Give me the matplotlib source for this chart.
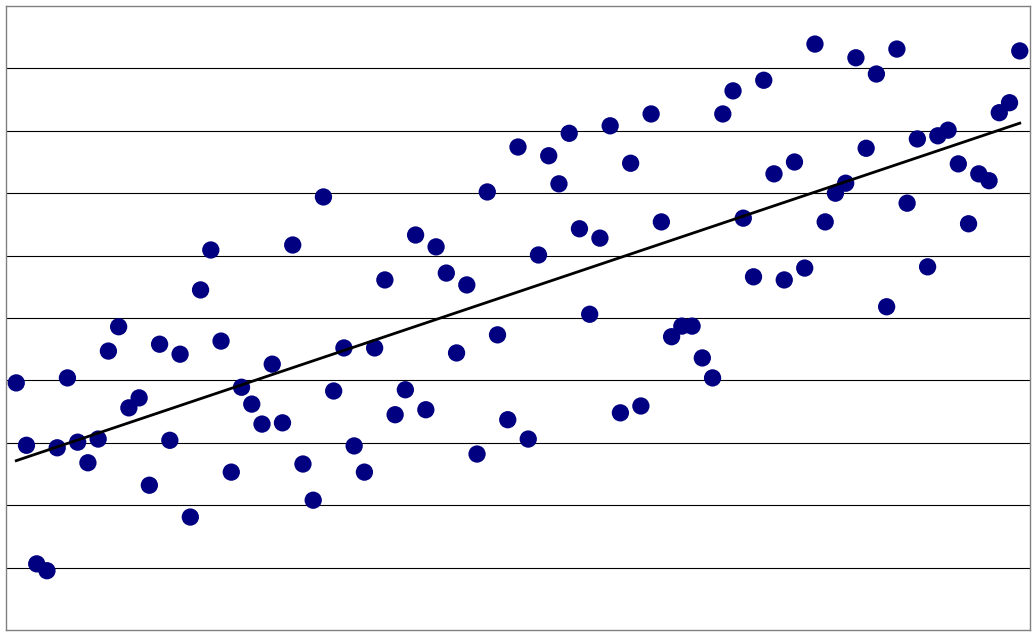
import numpy as np
import matplotlib
matplotlib.use("Agg")
import matplotlib.pyplot as plt

x_vals = np.arange(1, 100)
y_vals = [
    3.96, 2.96, 1.06, 0.95, 2.92, 4.04, 3.01, 2.68, 3.06, 4.47,
    4.86, 3.56, 3.72, 2.32, 4.58, 3.04, 4.42, 1.81, 5.45, 6.09,
    4.63, 2.53, 3.89, 3.62, 3.30, 4.26, 3.32, 6.17, 2.66, 2.08,
    6.94, 3.83, 4.52, 2.95, 2.53, 4.52, 5.61, 3.45, 3.85, 6.33,
    3.53, 6.14, 5.72, 4.44, 5.53, 2.82, 7.02, 4.73, 3.37, 7.74,
    3.06, 6.01, 7.60, 7.15, 7.96, 6.43, 5.06, 6.28, 8.08, 3.48,
    7.48, 3.59, 8.27, 6.54, 4.70, 4.87, 4.87, 4.36, 4.04, 8.27,
    8.64, 6.60, 5.66, 8.81, 7.31, 5.61, 7.50, 5.80, 9.39, 6.54,
    7.00, 7.16, 9.17, 7.72, 8.91, 5.18, 9.31, 6.84, 7.87, 5.82,
    7.92, 8.01, 7.47, 6.51, 7.31, 7.20, 8.29, 8.45, 9.28,
]
y_vals = np.array(y_vals)

fig = plt.figure(figsize=(10.36, 6.35), dpi=100)
ax = fig.add_axes([6 / 1036, 5 / 635, 1024 / 1036, 624 / 635])

# horizontal gridlines
for g in range(1, 10):
    ax.axhline(g, color="black", linewidth=0.8, zorder=1)

ax.scatter(x_vals, y_vals, s=155, color="#000080", edgecolors="none", zorder=2)

# linear trend line
slope, intercept = np.polyfit(x_vals, y_vals, 1)
ax.plot([x_vals[0], x_vals[-1]],
        [slope * x_vals[0] + intercept, slope * x_vals[-1] + intercept],
        color="black", linewidth=2.0, zorder=3)

ax.set_xlim(0, 100)
ax.set_ylim(0, 10)
ax.set_xticks([])
ax.set_yticks([])
for sp in ax.spines.values():
    sp.set_color("#808080")
    sp.set_linewidth(1.0)

fig.savefig("out.png", dpi=100)
